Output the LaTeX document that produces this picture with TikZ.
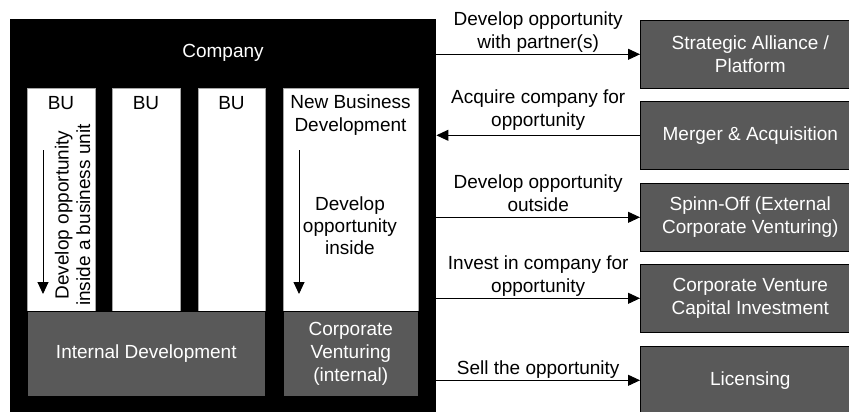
\documentclass[tikz,border=0pt]{standalone}
\usepackage{fontspec}
\setmainfont{Liberation Sans}
\usetikzlibrary{arrows.meta}
\definecolor{boxgray}{RGB}{89,89,89}
\begin{document}
\begin{tikzpicture}[x=1pt,y=-1pt,
 every node/.style={font=\fontsize{19}{23}\selectfont, inner sep=0pt},
 whitebox/.style={fill=white, draw=gray!70, line width=0.5pt, anchor=north west, minimum height=223pt},
 graybox/.style={fill=boxgray, draw=black, line width=0.6pt, anchor=north west, text=white, align=center},
 extbox/.style={graybox, minimum width=220pt, minimum height=68pt},
 arr/.style={-{Triangle[length=12pt,width=11pt]}, line width=0.9pt},
 lbl/.style={align=center, text depth=4pt}]
\useasboundingbox (0,0) rectangle (849,412);
\clip (0,0) rectangle (849,412);
% company frame
\node[fill=black, anchor=north west, minimum width=426pt, minimum height=396pt] (comp) at (10,19) {};
\node[text=white] (complbl) at (223,53) {Company};
% business units
\node[whitebox, minimum width=68pt] (bu1) at (27,88) {};
\node[whitebox, minimum width=68pt] (bu2) at (112,88) {};
\node[whitebox, minimum width=67pt] (bu3) at (198,88) {};
\node[whitebox, minimum width=135pt] (nbd) at (283,88) {};
\node (bu1t) at (61,103) {BU};
\node (bu2t) at (146,103) {BU};
\node (bu3t) at (231.5,103) {BU};
\node[align=center] (nbdt) at (350.5,115) {New Business\\Development};
% bottom grey boxes
\node[graybox, minimum width=238pt, minimum height=85pt] (intdev) at (27,311) {Internal Development};
\node[graybox, minimum width=135pt, minimum height=85pt] (cv) at (283,311) {Corporate\\Venturing\\(internal)};
% inner arrows
\coordinate (a1s) at (43,150);
\coordinate (a1e) at (43,294);
\draw[arr] (a1s) -- (a1e);
\node[rotate=90, align=center, font=\fontsize{19}{21.5}\selectfont] (a1t) at (72.5,215) {Develop opportunity\\inside a business unit};
\coordinate (a2s) at (299,150);
\coordinate (a2e) at (299,294);
\draw[arr] (a2s) -- (a2e);
\node[align=center, font=\fontsize{19}{22}\selectfont] (a2t) at (350,226) {Develop\\opportunity\\inside};
% external boxes
\node[extbox] (sa) at (640,20) {Strategic Alliance /\\Platform};
\node[extbox] (ma) at (640,101) {Merger \& Acquisition};
\node[extbox] (so) at (640,183) {Spinn-Off (External\\Corporate Venturing)};
\node[extbox] (cvc) at (640,264) {Corporate Venture\\Capital Investment};
\node[extbox] (lic) at (640,346) {Licensing};
% connectors
\draw[arr] (comp.east |- sa.west) -- node[lbl, above=1.5pt] {Develop opportunity\\with partner(s)} (sa.west);
\draw[arr] (ma.west) -- node[lbl, above=4pt] {Acquire company for\\opportunity} (comp.east |- ma.west);
\draw[arr] (comp.east |- so.west) -- node[lbl, above=1.5pt] {Develop opportunity\\outside} (so.west);
\draw[arr] (comp.east |- cvc.west) -- node[lbl, above=1.5pt] {Invest in company for\\opportunity} (cvc.west);
\draw[arr] (comp.east |- lic.west) -- node[lbl, above=1.5pt] {Sell the opportunity} (lic.west);
\end{tikzpicture}
\end{document}
